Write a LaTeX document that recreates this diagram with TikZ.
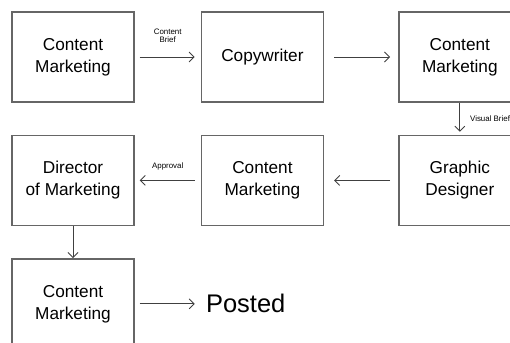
\documentclass[tikz,border=0pt]{standalone}
\usepackage{fontspec}
\setmainfont{Liberation Sans}
\usetikzlibrary{arrows.meta, positioning}

\begin{document}
\begin{tikzpicture}[node distance=0.64cm,
    box/.style={rectangle, draw=black!60, line width=0.8pt, minimum width=2.44cm, minimum height=1.8cm, align=center, inner sep=0pt, font=\fontsize{9.8}{12.5}\selectfont},
    arr/.style={draw=black!75, line width=0.5pt, -{Straight Barb[length=1mm, width=2mm]}},
    tag/.style={font=\fontsize{4.5}{4.8}\selectfont, align=center, inner sep=0.5pt}
]
\clip (0,0) rectangle (10.2,-6.84);

\node[box] (cmA) at (1.46,-1.14) {Content\\Marketing};
\node[box, right=1.32cm of cmA] (copy) {Copywriter};
\node[box, right=1.48cm of copy] (cmB) {Content\\Marketing};
\node[box, below=of cmB] (graphic) {Graphic\\Designer};
\node[box, below=of copy] (cmC) {Content\\Marketing};
\node[box, below=of cmA] (director) {Director\\of Marketing};
\node[box, below=of director] (cmD) {Content\\Marketing};
\node[right=1.42cm of cmD, inner sep=0pt, font=\fontsize{14.5}{16}\selectfont] (posted) {Posted};

\draw[arr, shorten <=0.1cm, shorten >=0.12cm] (cmA) -- node[tag, above=0.26cm] {Content\\Brief} (copy);
\draw[arr, shorten <=0.2cm, shorten >=0.16cm] (copy) -- (cmB);
\draw[arr, shorten >=0.06cm] (cmB) -- node[tag, right=0.18cm] {Visual Brief} (graphic);
\draw[arr, shorten <=0.16cm, shorten >=0.2cm] (graphic) -- (cmC);
\draw[arr, shorten <=0.12cm, shorten >=0.1cm] (cmC) -- node[tag, above=0.18cm] {Approval} (director);
\draw[arr] (director) -- (cmD);
\draw[arr, shorten <=0.1cm, shorten >=0.22cm] (cmD) -- (posted);

\end{tikzpicture}
\end{document}
